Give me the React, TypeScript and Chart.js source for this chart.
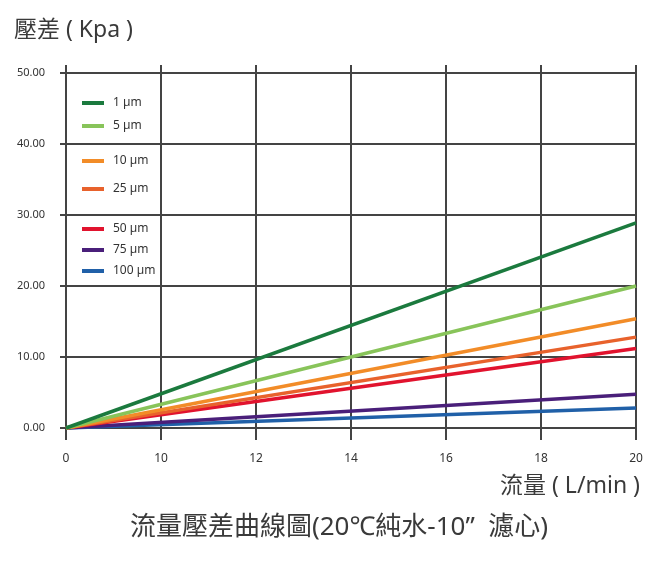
import React, { useEffect, useRef } from "react";
import { Chart, registerables } from "chart.js";

Chart.register(...registerables);

const xLabels = ["0", "10", "12", "14", "16", "18", "20"];
const yTicks = [0, 10, 20, 30, 40, 50];
const seriesNames = ["1 µm", "5 µm", "10 µm", "25 µm", "50 µm", "75 µm", "100 µm"];
const seriesColors = ["#1b7a3e", "#88c45a", "#f28c28", "#e8622c", "#e1132e", "#4a1f7a", "#2060a8"];
const startX = "0";
const endX = "20";
const startValues = [0, 0, 0, 0, 0, 0, 0];
const endValues = [28.9, 20.0, 15.4, 12.8, 11.2, 4.75, 2.8];

const yTitle = "壓差 ( Kpa )";
const xTitle = "流量 ( L/min )";
const mainTitle = "流量壓差曲線圖(20℃純水-10”  濾心)";

const FONT = '"Noto Sans", "Noto Sans CJK TC", sans-serif';
const GRID = "#444444";
const TEXT = "#333333";

const legendRows = [30, 53, 88, 116, 156, 177, 198];

const decorPlugin = {
  id: "decor",
  afterDraw(chart: any) {
    const { ctx, chartArea, scales } = chart;
    ctx.save();
    ctx.strokeStyle = GRID;
    ctx.lineWidth = 2;
    const xs = scales.x;
    xs.ticks.forEach((_t: any, i: number) => {
      const px = xs.getPixelForTick(i);
      ctx.beginPath();
      ctx.moveTo(px, chartArea.top - 8);
      ctx.lineTo(px, chartArea.top);
      ctx.stroke();
    });
    ctx.font = `12px ${FONT}`;
    ctx.textBaseline = "middle";
    ctx.textAlign = "left";
    seriesNames.forEach((name, i) => {
      const y = chartArea.top + legendRows[i];
      ctx.fillStyle = seriesColors[i];
      ctx.fillRect(chartArea.left + 16, y - 2, 22, 4);
      ctx.fillStyle = TEXT;
      ctx.fillText(name, chartArea.left + 47, y);
    });
    ctx.fillStyle = "#3a3a3a";
    ctx.font = `23px ${FONT}`;
    ctx.textAlign = "left";
    ctx.fillText(yTitle, 14, 30);
    ctx.textAlign = "right";
    ctx.fillText(xTitle, 640, 486);
    ctx.font = `26px ${FONT}`;
    ctx.textAlign = "center";
    ctx.fillText(mainTitle, 339, 528);
    ctx.restore();
  },
};

export default function App() {
  const ref = useRef<HTMLCanvasElement>(null);
  useEffect(() => {
    if (!ref.current) return;
    const chart = new Chart(ref.current, {
      type: "line",
      data: {
        labels: xLabels,
        datasets: seriesNames.map((name, i) => ({
          label: name,
          data: [
            { x: startX, y: startValues[i] },
            { x: endX, y: endValues[i] },
          ],
          borderColor: seriesColors[i],
          backgroundColor: seriesColors[i],
          borderWidth: 3.5,
          pointRadius: 0,
          tension: 0,
          clip: false as any,
        })),
      },
      options: {
        animation: false,
        responsive: false,
        events: [],
        layout: { padding: { left: 0, top: 73, right: 26, bottom: 99 } },
        plugins: { legend: { display: false }, tooltip: { enabled: false }, title: { display: false } },
        scales: {
          x: {
            type: "category",
            offset: false,
            afterFit: (s: any) => { s.height = 40; },
            grid: { color: GRID, lineWidth: 2, tickLength: 12, drawTicks: true, tickColor: GRID },
            border: { color: GRID, width: 2 },
            ticks: { color: TEXT, font: { family: FONT, size: 12 }, padding: 11, maxRotation: 0, autoSkip: false },
          },
          y: {
            min: 0,
            max: 50,
            afterFit: (s: any) => { s.width = 66; },
            afterBuildTicks: (s: any) => { s.ticks = yTicks.map((v) => ({ value: v })); },
            grid: { color: GRID, lineWidth: 2, tickLength: 6, tickColor: GRID },
            border: { color: GRID, width: 2 },
            ticks: {
              color: TEXT,
              font: { family: FONT, size: 11 },
              padding: 15,
              callback: (v: any) => Number(v).toFixed(2),
            },
          },
        },
      },
      plugins: [decorPlugin],
    });
    return () => chart.destroy();
  }, []);
  return (
    <div style={{ position: "fixed", left: 0, top: 0, width: 662, height: 567, background: "#fff" }}>
      <canvas ref={ref} width={662} height={567} style={{ width: 662, height: 567 }} />
    </div>
  );
}
